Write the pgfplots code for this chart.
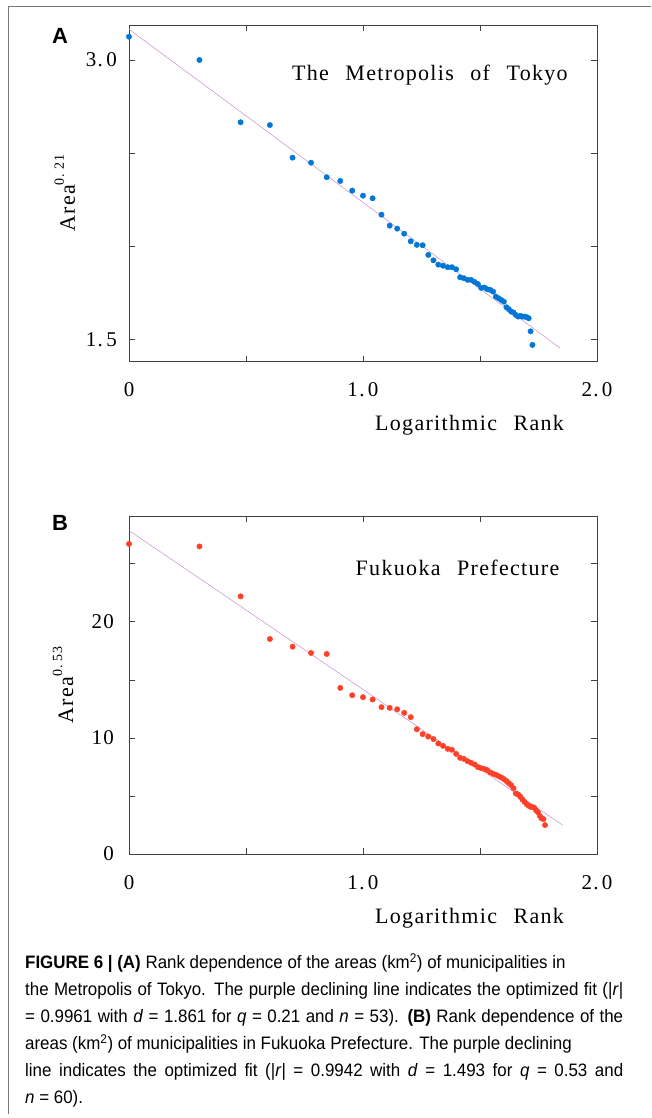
\documentclass[border=0pt]{standalone}
\usepackage{fontspec}
\usepackage{pgfplots}
\pgfplotsset{compat=1.18}
\newfontfamily\plotfont[LetterSpace=6]{Liberation Serif}
\newfontfamily\capfont[FakeStretch=0.94]{Liberation Sans}
\newfontfamily\letterfont{Liberation Sans}
\definecolor{tokyoblue}{RGB}{0,118,214}
\definecolor{fukured}{RGB}{255,64,40}
\definecolor{fitline}{RGB}{200,140,205}
\definecolor{framegray}{RGB}{120,120,120}

\pgfplotsset{panel/.style={
  scale only axis, width=468pt, xmin=0, xmax=2,
  axis line style={black!75, line width=0.6pt},
  tick style={black!75, line width=0.5pt}, major tick length=6pt,
  xtick={0,0.5,1,1.5,2}, xticklabels={0,,1.\,0,,2.\,0},
  tick label style={font=\plotfont\fontsize{21}{24}\selectfont, inner sep=0pt},
  xticklabel style={yshift=-21pt},
  label style={font=\plotfont\fontsize{22}{24}\selectfont},
  xlabel={Logarithmic\hspace{0.75em}Rank},
  ylabel style={anchor=center},
  xlabel style={at={(axis description cs:0.7276,0)}, anchor=center, yshift=-64pt},
  fit/.style={no marks, color=fitline, line width=0.5pt},
}}

\begin{document}
\begin{tikzpicture}
\useasboundingbox (0,0) rectangle (651pt,1118pt);
\draw[framegray, line width=1pt] (8pt,4pt) -- (8pt,1111pt) -- (651pt,1111pt);

% panel A
\begin{axis}[panel, at={(129pt,756.3pt)}, anchor=south west, height=336.7pt,
  ymin=1.381, ymax=3.188, ytick={1.5,2,2.5,3}, yticklabels={1.\,5,,,3.\,0},
  yticklabel style={xshift=-12pt},
  ylabel={Area\raisebox{11pt}{\fontsize{14}{14}\selectfont 0.\;21}},
  ylabel style={at={(axis description cs:-0.137,0.5)}}]
\addplot[fit] coordinates {(0,3.165) (1.842,1.454)};
\addplot[only marks, mark=*, mark size=2.7pt, color=tokyoblue, mark options={draw=none}] coordinates {
(0,3.125) (0.301,3.000) (0.477,2.666) (0.602,2.651) (0.699,2.476)
(0.778,2.449) (0.845,2.371) (0.903,2.351) (0.954,2.299) (1.000,2.272)
(1.041,2.258) (1.079,2.170) (1.114,2.111) (1.146,2.095) (1.176,2.068)
(1.204,2.027) (1.230,2.008) (1.255,2.006) (1.279,1.954) (1.301,1.925)
(1.322,1.902) (1.342,1.896) (1.362,1.888) (1.380,1.888) (1.398,1.877)
(1.415,1.834) (1.431,1.829) (1.447,1.820) (1.462,1.820) (1.477,1.809)
(1.491,1.798) (1.505,1.777) (1.519,1.779) (1.531,1.770) (1.544,1.766)
(1.556,1.757) (1.568,1.730) (1.580,1.721) (1.591,1.712) (1.602,1.703)
(1.613,1.673) (1.623,1.663) (1.633,1.650) (1.643,1.645) (1.653,1.632)
(1.663,1.623) (1.672,1.627) (1.681,1.623) (1.690,1.623) (1.699,1.620)
(1.708,1.614) (1.716,1.544) (1.724,1.471)};
\node[font=\plotfont\fontsize{22}{24}\selectfont] at (rel axis cs:0.643,0.8515)
  {The\hspace{0.75em}Metropolis\hspace{0.75em}of\hspace{0.75em}Tokyo};
\end{axis}

% panel B
\begin{axis}[panel, at={(129pt,264pt)}, anchor=south west, height=338pt,
  ymin=0, ymax=29.1, ytick={0,5,10,15,20,25}, yticklabels={0,,10,,20,},
  yticklabel style={xshift=-15pt},
  ylabel={Area\raisebox{11pt}{\fontsize{14}{14}\selectfont 0.\;53}},
  ylabel style={at={(axis description cs:-0.141,0.5)}}]
\addplot[fit] coordinates {(0,27.85) (1.853,2.49)};
\addplot[only marks, mark=*, mark size=2.7pt, color=fukured, mark options={draw=none}] coordinates {
(0,26.70) (0.301,26.48) (0.477,22.18) (0.602,18.51) (0.699,17.85)
(0.778,17.31) (0.845,17.22) (0.903,14.30) (0.954,13.67) (1.000,13.50)
(1.041,13.30) (1.079,12.64) (1.114,12.58) (1.146,12.46) (1.176,12.15)
(1.204,11.78) (1.230,10.74) (1.255,10.32) (1.279,10.11) (1.301,9.89)
(1.322,9.51) (1.342,9.31) (1.362,9.05) (1.380,8.97) (1.398,8.62)
(1.415,8.28) (1.431,8.19) (1.447,7.99) (1.462,7.85) (1.477,7.71)
(1.491,7.48) (1.505,7.39) (1.519,7.31) (1.531,7.22) (1.544,7.02)
(1.556,6.91) (1.568,6.82) (1.580,6.70) (1.591,6.59) (1.602,6.45)
(1.613,6.28) (1.623,6.10) (1.633,5.93) (1.643,5.67) (1.653,5.21)
(1.663,5.13) (1.672,4.93) (1.681,4.70) (1.690,4.50) (1.699,4.30)
(1.708,4.15) (1.716,4.07) (1.724,4.04) (1.732,3.98) (1.740,3.75)
(1.748,3.58) (1.756,3.27) (1.763,3.07) (1.771,3.01) (1.778,2.49)};
\node[font=\plotfont\fontsize{22}{24}\selectfont] at (rel axis cs:0.702,0.846)
  {Fukuoka\hspace{0.75em}Prefecture};
\end{axis}

\node[font=\letterfont\bfseries\fontsize{22}{22}\selectfont] at (60pt,1082pt) {A};
\node[font=\letterfont\bfseries\fontsize{22}{22}\selectfont] at (60pt,595pt) {B};

% caption
\begin{scope}[every node/.style={anchor=base west, inner sep=0pt, font=\capfont\fontsize{18}{20}\selectfont}]
\node at (25pt,149pt) {\textbf{FIGURE 6 | (A)} Rank dependence of the areas (km\textsuperscript{2}) of municipalities in};
\node at (25pt,122pt) {\makebox[598pt][s]{the Metropolis of Tokyo. The purple declining line indicates the optimized fit (|\textit{r}|}};
\node at (25pt,95pt) {\makebox[598pt][s]{= 0.9961 with \textit{d} = 1.861 for \textit{q} = 0.21 and \textit{n} = 53). \textbf{(B)} Rank dependence of the}};
\node at (25pt,68pt) {areas (km\textsuperscript{2}) of municipalities in Fukuoka Prefecture. The purple declining};
\node at (25pt,41pt) {\makebox[598pt][s]{line indicates the optimized fit (|\textit{r}| = 0.9942 with \textit{d} = 1.493 for \textit{q} = 0.53 and}};
\node at (25pt,14pt) {\textit{n} = 60).};
\end{scope}
\end{tikzpicture}
\end{document}
